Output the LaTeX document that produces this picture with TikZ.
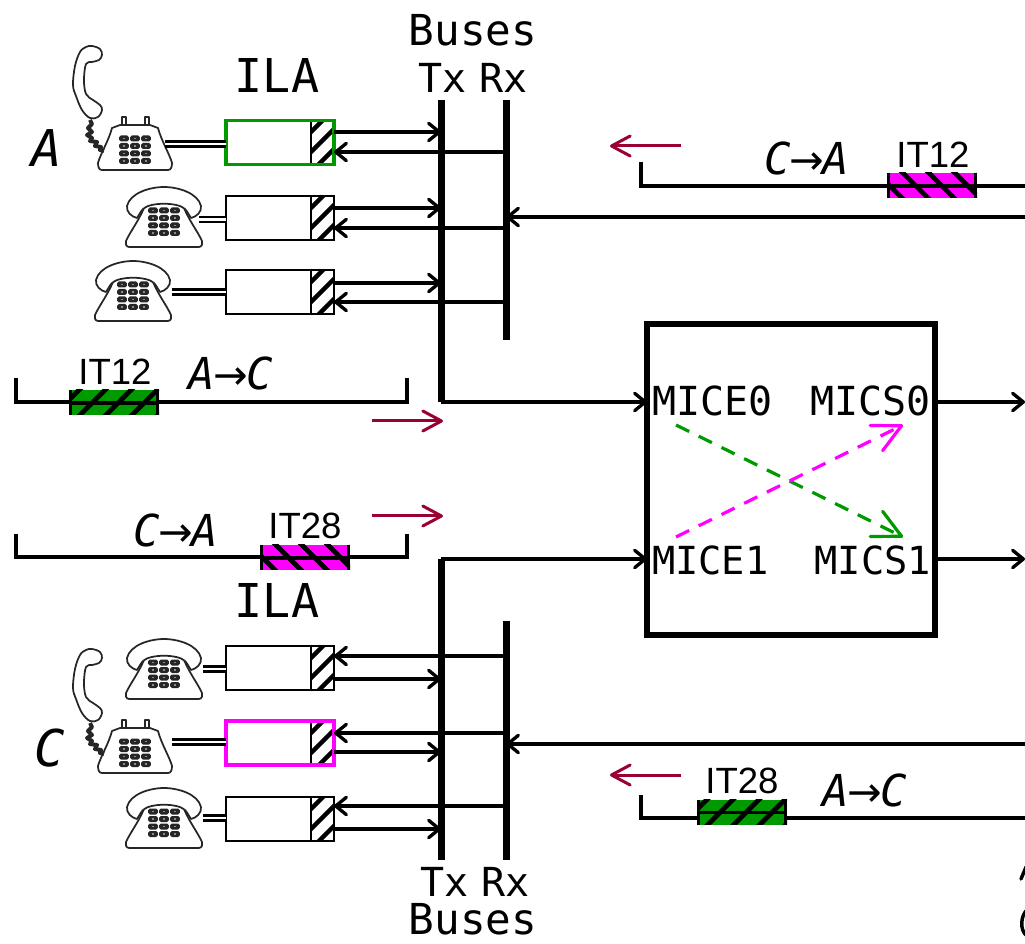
\documentclass[tikz,border=0pt]{standalone}
\usepackage{fontspec}
\setmainfont{DejaVu Sans Mono}
\newfontfamily\itfont{Liberation Sans}
\newfontfamily\arrfont{DejaVu Sans}
\usetikzlibrary{arrows.meta}
\definecolor{grn}{HTML}{009900}
\definecolor{mag}{HTML}{FF00FF}
\definecolor{wine}{HTML}{990033}
\tikzset{
  wire/.style={line width=2.5pt,black},
  conn/.style={wire,-{Straight Barb[length=8pt,width=13pt,line width=2.5pt,round]}},
  wineconn/.style={line width=2.25pt,wine,-{Straight Barb[length=14pt,width=15pt,line width=2.25pt,round]}},
  cross/.style={line width=2.4pt,dash pattern=on 11pt off 8pt,-{Straight Barb[length=21pt,width=21pt,line width=2.4pt,round]}},
  bus/.style={line width=5.25pt,black},
  ilabox/.style={draw,line width=2pt,fill=white,minimum width=81pt,minimum height=33pt,inner sep=0pt,outer sep=0pt},
  tel/.style={line width=1.8pt,double=white,double distance=2pt,draw=black},
  lab/.style={inner sep=0pt,outer sep=0pt,text=black},
  big/.style={lab,font=\fontsize{32}{32}\selectfont},
  ila/.style={lab,font=\fontsize{35}{35}\selectfont},
  mid/.style={lab,font=\fontsize{30}{30}\selectfont},
  it/.style={lab,font=\itfont\fontsize{27.4}{27.4}\selectfont},
  dir/.style={lab,font=\fontsize{33}{33}\selectfont\itshape},
  letter/.style={lab,font=\fontsize{38}{38}\selectfont\itshape},
  phoneline/.style={line width=1.3pt,draw=black!85,fill=white,line join=round},
  phonekey/.style={fill=black!85,draw=none,rounded corners=1.2pt},
  pics/keys/.style={code={
    \foreach \kx in {-11,0,11}\foreach \ky in {-7.5,0,7.5,15}{
      \fill[phonekey] (\kx-4.8,\ky-3) rectangle (\kx+4.8,\ky+3);
      \fill[black!45] (\kx-1.2,\ky-.8) rectangle (\kx+1.2,\ky+.8);}
  }},
  pics/phoneon/.style={code={
    \draw[phoneline] (-20,-9) .. controls (-14,-16) and (14,-16) .. (20,-9)
      .. controls (26,5) and (34,15) .. (38,24) .. controls (39,30) and (36,30) .. (33,30)
      -- (-33,30) .. controls (-36,30) and (-39,30) .. (-38,24) .. controls (-34,15) and (-26,5) .. (-20,-9) -- cycle;
    \draw[phoneline] (-27,1) .. controls (-32,0) and (-38,-5) .. (-37,-11)
      .. controls (-34,-24) and (-14,-30) .. (0,-30) .. controls (14,-30) and (34,-24) .. (37,-11)
      .. controls (38,-5) and (32,0) .. (27,1) .. controls (25,-2) and (23,-6) .. (21,-8)
      .. controls (14,-15) and (-14,-15) .. (-21,-8) .. controls (-23,-6) and (-25,-2) .. (-27,1) -- cycle;
    \pic at (0,1) {keys};
  }},
  pics/phoneoff/.style={code={
    \begin{scope}[shift={(-135,-144)}]
      \draw[phoneline] (122,125) rectangle (126,117);
      \draw[phoneline] (145,125) rectangle (149,117);
      \draw[phoneline] (112,128) -- (120,125) -- (150,125) -- (158,128)
        .. controls (161,140) and (170,155) .. (172,163) .. controls (172,167) and (171,170) .. (168,170)
        -- (102,170) .. controls (99,170) and (98,167) .. (98,163)
        .. controls (100,155) and (109,140) .. (112,128) -- cycle;
      \draw[phoneline] plot[smooth cycle,tension=.6] coordinates {
        (92,46) (100,49) (102,55) (99,60) (92,62) (86,64) (84,80) (86,94) (93,100) (100,105) (102,110)
        (98,117) (90,118) (82,110) (76,96) (73,85) (75,66) (80,52) (86,47)};
      \draw[line width=3pt,black!85,line join=round] (90,120) -- (92,124) -- (88,128) -- (92,132) -- (87,135) -- (92,138)
        -- (90,141) -- (97,142) -- (95,146) -- (101,147) -- (100,150) -- (104,151);
    \end{scope}
    \pic at (0,2) {keys};
  }}
}
\newcommand{\hatchcell}[2]{%
  \begin{scope}
    \clip (311,#1) rectangle (334,#2);
    \foreach \s in {-40,-20,...,80}
      \draw[line width=3.3pt,black] (300,#2+\s-20) -- ++(50,-50);
  \end{scope}
  \draw[line width=2pt] (311,#1) -- (311,#2);
}
% #1 left, #2 top, #3 colour, #4 slant: 1 falls to the right, -1 rises to the right
\newcommand{\bandhatch}[4]{%
  \fill[#3] (#1,#2) rectangle ++(90,25);
  \begin{scope}
    \clip (#1,#2) rectangle ++(90,25);
    \foreach \s in {-39,-13,...,130}
      \draw[line width=3.6pt,black] (#1+\s,#2-3) -- ++(#4*31,31);
  \end{scope}
  \draw[line width=2pt] (#1+1.5,#2) -- ++(0,25) (#1+88.5,#2) -- ++(0,25);
  \draw[wire] (#1,#2+13) -- ++(90,0);
}
\newcommand{\arr}{\hspace{-1pt}{\arrfont\upshape\fontsize{31}{31}\selectfont →}\hspace{-1pt}}
\begin{document}
\begin{tikzpicture}[x=0.75pt,y=-0.75pt]
\useasboundingbox (0,0) rectangle (1025,944);
\clip (0,0) rectangle (1025,944);
% bus and route anchors
\coordinate (txU) at (441,100); \coordinate (txUb) at (441,402);
\coordinate (rxU) at (506,100); \coordinate (rxUb) at (506,340);
\coordinate (txL) at (441,860); \coordinate (txLt) at (441,559);
\coordinate (rxL) at (506,860); \coordinate (rxLt) at (506,621);
\coordinate (edgeA) at (1025,217); \coordinate (edgeB) at (1025,744);
\coordinate (edgeC) at (1025,402); \coordinate (edgeD) at (1025,559);
% phones
\pic at (135,144) {phoneoff};
\pic at (164,217) {phoneon};
\pic at (133,291) {phoneon};
\pic at (164,669) {phoneon};
\pic at (135,747) {phoneoff};
\pic at (164,818) {phoneon};
% ILA boxes
\node[ilabox,draw=grn,line width=2.8pt] (b1) at (280,142.5) {};
\node[ilabox] (b2) at (280,218) {};
\node[ilabox] (b3) at (280,292) {};
\node[ilabox] (b4) at (280,668) {};
\node[ilabox,draw=mag,line width=2.8pt] (b5) at (280,743) {};
\node[ilabox] (b6) at (280,819) {};
\hatchcell{122}{163}\hatchcell{197}{239}\hatchcell{271}{313}
\hatchcell{647}{689}\hatchcell{722}{764}\hatchcell{798}{840}
% re-stroke the box frames over the hatching
\node[ilabox,draw=grn,line width=2.8pt,fill=none] at (b1) {};
\node[ilabox,fill=none] at (b2) {};
\node[ilabox,fill=none] at (b3) {};
\node[ilabox,fill=none] at (b4) {};
\node[ilabox,draw=mag,line width=2.8pt,fill=none] at (b5) {};
\node[ilabox,fill=none] at (b6) {};
% phone cords
\coordinate (p1) at (165,144); \coordinate (p2) at (199,219.5); \coordinate (p3) at (172,292);
\coordinate (p4) at (203,669); \coordinate (p5) at (172,742); \coordinate (p6) at (203,818);
\draw[tel] (p1) -- (b1.west |- p1);
\draw[tel] (p2) -- (b2.west |- p2);
\draw[tel] (p3) -- (b3.west |- p3);
\draw[tel] (p4) -- (b4.west |- p4);
\draw[tel] (p5) -- (b5.west |- p5);
\draw[tel] (p6) -- (b6.west |- p6);
% box <-> bus arrows
\coordinate (t1) at (334,132); \coordinate (r1) at (334,152);
\coordinate (t2) at (334,208); \coordinate (r2) at (334,228);
\coordinate (t3) at (334,283); \coordinate (r3) at (334,302);
\coordinate (r4) at (334,656); \coordinate (t4) at (334,679);
\coordinate (r5) at (334,733); \coordinate (t5) at (334,752);
\coordinate (r6) at (334,806); \coordinate (t6) at (334,829);
\draw[conn] (t1) -- (t1 -| txU);
\draw[conn] (t2) -- (t2 -| txU);
\draw[conn] (t3) -- (t3 -| txU);
\draw[conn] (t4) -- (t4 -| txU);
\draw[conn] (t5) -- (t5 -| txU);
\draw[conn] (t6) -- (t6 -| txU);
\draw[conn] (r1 -| rxU) -- (r1);
\draw[conn] (r2 -| rxU) -- (r2);
\draw[conn] (r3 -| rxU) -- (r3);
\draw[conn] (r4 -| rxU) -- (r4);
\draw[conn] (r5 -| rxU) -- (r5);
\draw[conn] (r6 -| rxU) -- (r6);
% buses
\draw[bus] (txU) -- (txUb);
\draw[bus] (rxU) -- (rxUb);
\draw[bus] (txLt) -- (txL);
\draw[bus] (rxLt) -- (rxL);
% MIC box
\node[draw,line width=4.8pt,minimum width=216pt,minimum height=233pt,inner sep=0pt,outer sep=0pt,fill=white] (mic) at (791,479.5) {};
\draw[conn] (txUb) -- (mic.west |- txUb);
\draw[conn] (txLt) -- (mic.west |- txLt);
\draw[conn] (mic.east |- edgeC) -- (edgeC);
\draw[conn] (mic.east |- edgeD) -- (edgeD);
\draw[conn] (edgeA) -- (edgeA -| rxU);
\draw[conn] (edgeB) -- (edgeB -| rxU);
\node[lab,anchor=west,mid] (mice0) at (652,401) {MICE0};
\node[lab,anchor=east,mid] (mics0) at (931,401) {MICS0};
\node[lab,anchor=west,mid,font=\fontsize{29}{29}\selectfont] (mice1) at (652,560) {MICE1};
\node[lab,anchor=east,mid,font=\fontsize{29}{29}\selectfont] (mics1) at (931,560) {MICS1};
\coordinate (c0s) at (676,425); \coordinate (c0e) at (903,537);
\coordinate (c1s) at (676,537); \coordinate (c1e) at (903,425);
\draw[cross,grn] (c0s) -- (c0e);
\draw[cross,mag] (c1s) -- (c1e);
% frames
\coordinate (f1a) at (641,162); \coordinate (f1b) at (641,186); \coordinate (f1c) at (1025,186);
\draw[wire] (f1a) -- (f1b) -- (f1c);
\coordinate (f2a) at (16,378); \coordinate (f2b) at (16,402); \coordinate (f2c) at (407,402); \coordinate (f2d) at (407,378);
\draw[wire] (f2a) -- (f2b) -- (f2c) -- (f2d);
\coordinate (f3a) at (16,534); \coordinate (f3b) at (16,557); \coordinate (f3c) at (407,557); \coordinate (f3d) at (407,534);
\draw[wire] (f3a) -- (f3b) -- (f3c) -- (f3d);
\coordinate (f4a) at (641,795); \coordinate (f4b) at (641,818); \coordinate (f4c) at (1025,818);
\draw[wire] (f4a) -- (f4b) -- (f4c);
\bandhatch{887}{173}{mag}{1}
\bandhatch{69}{390}{grn}{-1}
\bandhatch{260}{545}{mag}{1}
\bandhatch{697}{799.5}{grn}{-1}
\node[it] (it1) at (933,155) {IT12};
\node[it] (it2) at (115,372) {IT12};
\node[it] (it3) at (305,526) {IT28};
\node[it] (it4) at (742,781) {IT28};
\node[dir] (d1) at (807,158) {C\arr A};
\node[dir] (d2) at (231,373) {A\arr C};
\node[dir] (d3) at (176,530) {C\arr A};
\node[dir] (d4) at (865,790) {A\arr C};
% wine arrows
\coordinate (w1a) at (681,146); \coordinate (w1b) at (610,146);
\coordinate (w2a) at (372,421); \coordinate (w2b) at (443,421);
\coordinate (w3a) at (372,516); \coordinate (w3b) at (443,516);
\coordinate (w4a) at (681,775); \coordinate (w4b) at (610,775);
\draw[wineconn] (w1a) -- (w1b);
\draw[wineconn] (w2a) -- (w2b);
\draw[wineconn] (w3a) -- (w3b);
\draw[wineconn] (w4a) -- (w4b);
% titles
\node[big] (busT) at (473,30) {Buses};
\node[mid] (trT) at (473,78) {Tx\hspace{-9pt} Rx};
\node[ila] (ilaT) at (277,75) {ILA};
\node[ila] (ilaB) at (277,600) {ILA};
\node[mid] (trB) at (475,882) {Tx\hspace{-9pt} Rx};
\node[big] (busB) at (473,919) {Buses};
\node[letter] (lA) at (47,148) {A};
\node[letter] (lC) at (50,748) {C};
% cropped glyph fragments at the right edge
\draw[line width=2.6pt,line cap=round] (1026,867) -- (1021,879);
\draw[line width=2.6pt,line cap=round] (1027,910) .. controls (1021,915) and (1019,930) .. (1027,936);
\end{tikzpicture}
\end{document}
